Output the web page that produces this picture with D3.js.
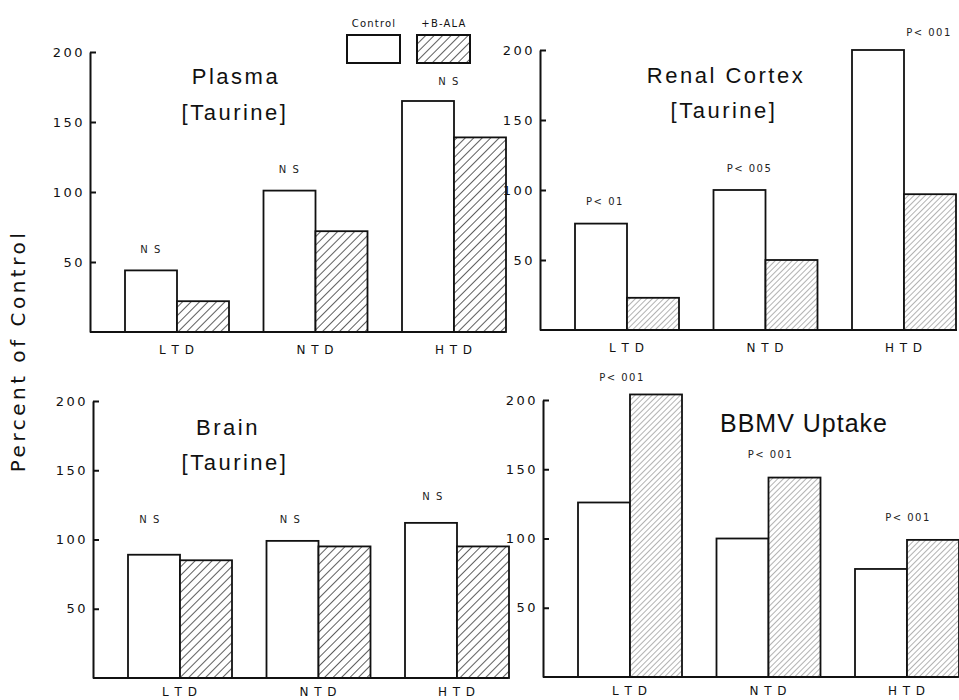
<!DOCTYPE html>
<html>
<head>
<meta charset="utf-8">
<script src="https://cdn.jsdelivr.net/npm/d3@7"></script>
<style>
  body { margin: 0; background: #fff; }
  svg { display: block; }
  .tick text { font-family: "DejaVu Sans", sans-serif; font-size: 13px; letter-spacing: 2.5px; fill: #111; }
  .axis path, .axis line { stroke: #111; stroke-width: 2; }
</style>
</head>
<body>
<svg id="chart" width="959" height="700"></svg>
<script>
// data
const categories = ["LTD", "NTD", "HTD"];
const catLabels = ["L T D", "N T D", "H T D"];
const yTicks = [50, 100, 150, 200];

const plasmaControl = [44, 101, 165];
const plasmaBala = [22, 72, 139];
const plasmaNotes = ["N S", "N S", "N S"];

const renalControl = [76, 100, 200];
const renalBala = [23, 50, 97];
const renalNotes = ["P< 01", "P< 005", "P< 001"];

const brainControl = [89, 99, 112];
const brainBala = [85, 95, 95];
const brainNotes = ["N S", "N S", "N S"];

const bbmvControl = [126, 100, 78];
const bbmvBala = [204, 144, 99];
const bbmvNotes = ["P< 001", "P< 001", "P< 001"];

const svg = d3.select("#chart");

// hatch patterns
const defs = svg.append("defs");
function hatch(id, gap, color, width) {
  const p = defs.append("pattern")
      .attr("id", id)
      .attr("patternUnits", "userSpaceOnUse")
      .attr("width", gap)
      .attr("height", gap)
      .attr("patternTransform", "rotate(45)");
  p.append("rect").attr("width", gap).attr("height", gap).attr("fill", "#fff");
  p.append("line")
      .attr("x1", 0).attr("y1", 0).attr("x2", 0).attr("y2", gap)
      .attr("stroke", color).attr("stroke-width", width);
}
hatch("hatch", 6, "#1a1a1a", 1.4);
hatch("hatchFine", 4, "#666", 1);

class BarPanel {
  constructor(opts) {
    this.o = opts;
    this.g = svg.append("g");
    this.y = d3.scaleLinear().domain([0, 200]).range([opts.bottom, opts.top]);
    this.x = d3.scalePoint().domain(categories).range([opts.axisX + 87, opts.axisX + 364]);
    this.barW = 52;
  }

  draw(control, bala, notes) {
    const o = this.o, x = this.x, y = this.y, w = this.barW;
    const rows = categories.map(function(c, i) {
      return {cat: c, label: catLabels[i], control: control[i], bala: bala[i], note: notes[i]};
    });

    const grp = this.g.selectAll(".grp")
      .data(rows)
      .enter().append("g")
        .attr("class", "grp");

    grp.append("rect")
        .attr("x", function(d) { return x(d.cat) - w; })
        .attr("y", function(d) { return y(d.control); })
        .attr("width", w)
        .attr("height", function(d) { return y(0) - y(d.control); })
        .attr("fill", "#fff")
        .attr("stroke", "#111")
        .attr("stroke-width", 1.8);

    grp.append("rect")
        .attr("x", function(d) { return x(d.cat); })
        .attr("y", function(d) { return y(d.bala); })
        .attr("width", w)
        .attr("height", function(d) { return y(0) - y(d.bala); })
        .attr("fill", "url(#" + o.pattern + ")")
        .attr("stroke", "#111")
        .attr("stroke-width", 1.8);

    grp.append("text")
        .attr("x", function(d, i) { return x(d.cat) + o.noteDx[i]; })
        .attr("y", function(d, i) { return y(Math.max(d.control, d.bala)) + o.noteDy[i]; })
        .attr("text-anchor", "middle")
        .style("font", "10px 'DejaVu Sans', sans-serif")
        .style("letter-spacing", "1.5px")
        .attr("fill", "#222")
        .text(function(d) { return d.note; });

    grp.append("text")
        .attr("x", function(d) { return x(d.cat); })
        .attr("y", o.bottom + o.labelDy)
        .attr("text-anchor", "middle")
        .style("font", "12px 'DejaVu Sans', sans-serif")
        .style("letter-spacing", "1px")
        .attr("fill", "#111")
        .text(function(d) { return d.label; });

    // axes
    this.g.append("g")
        .attr("class", "axis")
        .attr("transform", "translate(" + o.axisX + ",0)")
        .call(d3.axisLeft(y).tickValues(yTicks).tickSizeInner(-6).tickSizeOuter(0).tickPadding(5));

    this.g.append("line")
        .attr("x1", o.axisX).attr("x2", o.right)
        .attr("y1", y(0)).attr("y2", y(0))
        .attr("stroke", "#111").attr("stroke-width", 2);

    // title
    const t = this.g.append("text")
        .attr("text-anchor", "middle")
        .style("font-family", "'Liberation Sans', Arial, sans-serif")
        .style("font-size", o.titleSize + "px")
        .style("letter-spacing", o.titleSpacing + "px")
        .attr("fill", "#111");
    o.title.forEach(function(line, i) {
      t.append("tspan")
          .attr("x", o.titleX[i])
          .attr("y", o.titleY[i])
          .text(line);
    });
  }
}

new BarPanel({axisX: 90, top: 52, bottom: 332, right: 505, pattern: "hatch", labelDy: 22,
  noteDx: [-26, -26, -5], noteDy: [-17, -18, -16],
  title: ["Plasma", "[Taurine]"], titleX: [236, 235], titleY: [84, 120], titleSize: 22, titleSpacing: 2.5})
  .draw(plasmaControl, plasmaBala, plasmaNotes);

new BarPanel({axisX: 540, top: 50, bottom: 330, right: 957, pattern: "hatchFine", labelDy: 22,
  noteDx: [-22, -16, 25], noteDy: [-19, -18, -14],
  title: ["Renal Cortex", "[Taurine]"], titleX: [726, 724], titleY: [83, 118], titleSize: 22, titleSpacing: 2.5})
  .draw(renalControl, renalBala, renalNotes);

new BarPanel({axisX: 93, top: 401, bottom: 678, right: 508, pattern: "hatch", labelDy: 18,
  noteDx: [-30, -28, -24], noteDy: [-32, -18, -23],
  title: ["Brain", "[Taurine]"], titleX: [228, 235], titleY: [435, 470], titleSize: 22, titleSpacing: 2.5})
  .draw(brainControl, brainBala, brainNotes);

new BarPanel({axisX: 543, top: 400, bottom: 677, right: 958, pattern: "hatchFine", labelDy: 18,
  noteDx: [-8, 2, 1], noteDy: [-13, -20, -19],
  title: ["BBMV Uptake"], titleX: [804], titleY: [432], titleSize: 25, titleSpacing: 1})
  .draw(bbmvControl, bbmvBala, bbmvNotes);

// shared y label
svg.append("text")
    .attr("transform", "translate(25,351) rotate(-90)")
    .attr("text-anchor", "middle")
    .style("font", "20px 'DejaVu Sans', sans-serif")
    .style("letter-spacing", "3.5px")
    .attr("fill", "#111")
    .text("Percent of Control");

// legend
const legendItems = [
  {label: "Control", fill: "#fff", x: 347},
  {label: "+B-ALA", fill: "url(#hatch)", x: 417}
];
const legend = svg.selectAll(".legend")
  .data(legendItems)
  .enter().append("g")
    .attr("class", "legend")
    .attr("transform", function(d) { return "translate(" + d.x + ",35)"; });

legend.append("rect")
    .attr("width", 53)
    .attr("height", 28)
    .attr("fill", function(d) { return d.fill; })
    .attr("stroke", "#111")
    .attr("stroke-width", 2);

legend.append("text")
    .attr("x", 27)
    .attr("y", -8)
    .attr("text-anchor", "middle")
    .style("font", "10px 'DejaVu Sans', sans-serif")
    .style("letter-spacing", "1.2px")
    .attr("fill", "#111")
    .text(function(d) { return d.label; });
</script>
</body>
</html>
